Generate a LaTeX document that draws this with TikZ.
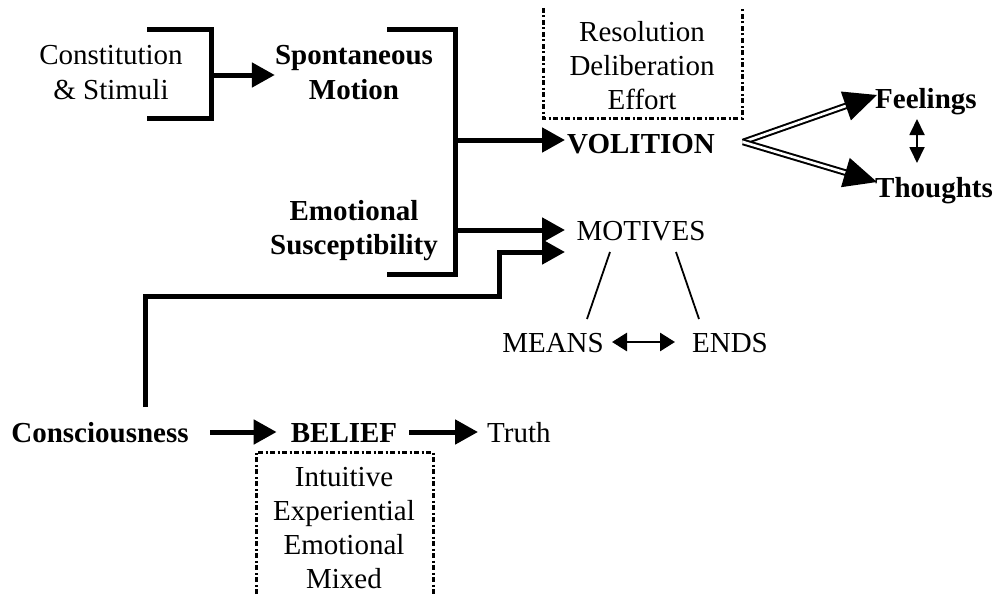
\documentclass[tikz,border=0pt]{standalone}
\usepackage{fontspec}
\setmainfont{Liberation Serif}
\usetikzlibrary{arrows.meta}
\begin{document}
\begin{tikzpicture}[x=1pt,y=-1pt,
  txt/.style={inner sep=0pt, font=\fontsize{29}{34}\selectfont, align=center, anchor=base},
  bld/.style={inner sep=0pt, font=\fontsize{29}{34}\selectfont\bfseries, align=center, anchor=base},
  heavy/.style={line width=5pt},
  bigarr/.style={heavy, -{Triangle[length=23pt,width=24pt]}},
  dblarr/.style={double, line width=2pt, double distance=2.6pt, -{Triangle[length=33pt,width=30pt]}},
  thin/.style={line width=1.8pt},
  dotbox/.style={line width=3pt, dash pattern=on 5pt off 2.5pt on 2pt off 2.5pt},
]
\useasboundingbox (0,0) rectangle (1006,594);

% text nodes (multi-line nodes are placed by the baseline of their last line)
\node[txt] (cs) at (111,99) {Constitution\\\& Stimuli};
\node[bld] (sm) at (354,99) {Spontaneous\\Motion};
\node[bld] (es) at (354,254) {Emotional\\Susceptibility};
\node[txt] (rde) at (642,109) {Resolution\\Deliberation\\Effort};
\node[bld, anchor=base west] (vol) at (567,153) {VOLITION};
\node[bld, anchor=base west] (feel) at (875,108) {Feelings};
\node[bld, anchor=base west] (thought) at (875,197) {Thoughts};
\node[txt] (mot) at (641,240) {MOTIVES};
\node[txt] (means) at (553,352) {MEANS};
\node[txt] (ends) at (730,352) {ENDS};
\node[bld] (con) at (100,442) {Consciousness};
\node[bld] (bel) at (344,442) {BELIEF};
\node[txt, anchor=base west] (truth) at (487,442) {Truth};
\node[txt] (kinds) at (344,588) {Intuitive\\Experiential\\Emotional\\Mixed};

% brackets
\coordinate (b1t) at (147,30);
\coordinate (b1b) at (147,118);
\coordinate (b1r) at (211,75);
\draw[heavy] (b1t) -- (211,30) -- (211,118) -- (b1b);
\coordinate (b2t) at (387,30);
\coordinate (b2b) at (387,274);
\draw[heavy] (b2t) -- (455,30) -- (455,274) -- (b2b);

% bold arrows
\draw[bigarr] (b1r) -- (b1r -| sm.west);
\coordinate (v1) at (455,140);
\draw[bigarr] (v1) -- ([xshift=-2pt]v1 -| vol.west);
\coordinate (m1) at (455,230);
\coordinate (m1e) at (565,230);
\draw[bigarr] (m1) -- (m1e);
\coordinate (cup) at (145,407);
\coordinate (m2e) at (565,252);
\draw[bigarr] (cup) -- (145,296) -- (499,296) -- (499,252) -- (m2e);
\coordinate (c1) at (210,432);
\coordinate (c2) at (409,432);
\draw[bigarr] (c1) -- ([xshift=-14pt]c1 -| bel.west);
\draw[bigarr] (c2) -- ([xshift=-9pt]c2 -| truth.west);

% volition splits into feelings and thoughts
\coordinate (vs) at (743,142);
\draw[dblarr] (vs) -- (877,95);
\draw[dblarr] (vs) -- (877,182);
\coordinate (ft1) at (917,119);
\coordinate (ft2) at (917,163);
\draw[thin, {Triangle[length=16pt,width=15pt]}-{Triangle[length=16pt,width=15pt]}] (ft1) -- (ft2);

% motives tree
\draw[thin] (610,252) -- (587,319);
\draw[thin] (676,252) -- (699,319);
\draw[line width=2.8pt, {Triangle[length=15pt,width=18pt]}-{Triangle[length=15pt,width=18pt]}] (612,342) -- (675,342);

% dotted frames
\draw[dotbox] (543,8) -- (543,118) -- (742,118) -- (742,8);
\draw[dotbox] (256,594) -- (256,452) -- (433,452) -- (433,594);
\end{tikzpicture}
\end{document}
